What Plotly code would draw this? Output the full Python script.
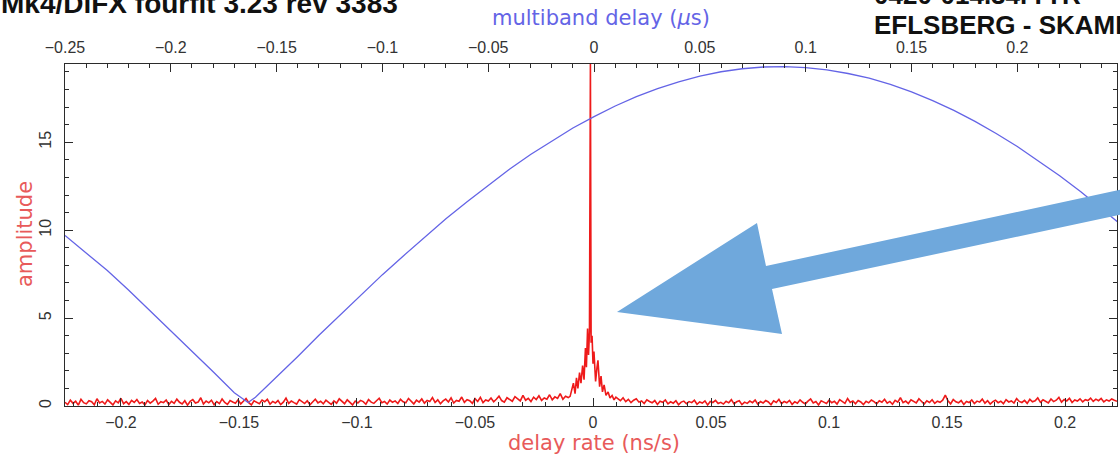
import numpy as np
import plotly.graph_objects as go

# ---- multiband delay function (top axis, microseconds) ----
mbd_delay = [-0.25, -0.24, -0.23, -0.22, -0.21, -0.20, -0.19, -0.18, -0.17, -0.1635,
             -0.16, -0.15, -0.14, -0.13, -0.12, -0.11, -0.10, -0.09, -0.08, -0.07,
             -0.06, -0.05, -0.04, -0.03, -0.02, -0.01, 0.00, 0.01, 0.02, 0.03,
             0.04, 0.05, 0.06, 0.07, 0.08, 0.09, 0.10, 0.11, 0.12, 0.13,
             0.14, 0.15, 0.16, 0.17, 0.18, 0.19, 0.20, 0.21, 0.22, 0.23,
             0.24, 0.25]
mbd_amp = [9.70, 8.70, 7.70, 6.60, 5.45, 4.30, 3.15, 1.95, 0.75, 0.20,
           0.50, 1.64, 2.82, 4.02, 5.18, 6.33, 7.47, 8.55, 9.62, 10.65,
           11.62, 12.56, 13.46, 14.30, 15.08, 15.81, 16.46, 17.06, 17.59, 18.05,
           18.44, 18.76, 19.01, 19.18, 19.28, 19.30, 19.24, 19.12, 18.91, 18.64,
           18.29, 17.87, 17.37, 16.81, 16.19, 15.50, 14.76, 13.95, 13.09, 12.18,
           11.22, 10.21]

# ---- delay-rate spectrum (bottom axis, ns/s) ----
rate_left_span = (-0.2237, -0.0105)
rate_left_amp = [
    0.21, 0.08, 0.33, 0.15, 0.27, 0.05, 0.38, 0.19, 0.12, 0.30, 0.24, 0.07, 0.41, 0.17, 0.26,
    0.11, 0.35, 0.22, 0.06, 0.29, 0.18, 0.44, 0.13, 0.25, 0.09, 0.32, 0.20, 0.37, 0.14, 0.23,
    0.06, 0.31, 0.16, 0.28, 0.43, 0.10, 0.24, 0.19, 0.34, 0.08, 0.27, 0.15, 0.39, 0.21, 0.12,
    0.30, 0.05, 0.26, 0.36, 0.17, 0.22, 0.47, 0.11, 0.28, 0.18, 0.33, 0.07, 0.25, 0.14, 0.40,
    0.20, 0.09, 0.31, 0.23, 0.16, 0.35, 0.12, 0.27, 0.42, 0.19, 0.06, 0.29, 0.21, 0.13, 0.34,
    0.24, 0.38, 0.10, 0.26, 0.17, 0.31, 0.08, 0.22, 0.45, 0.15, 0.28, 0.19, 0.11, 0.36, 0.25,
    0.14, 0.30, 0.07, 0.23, 0.39, 0.18, 0.27, 0.12, 0.33, 0.21, 0.09, 0.29, 0.16, 0.41, 0.24,
    0.13, 0.35, 0.20, 0.06, 0.28, 0.17, 0.32, 0.25, 0.10, 0.37, 0.22, 0.15, 0.30, 0.44, 0.19,
    0.26, 0.11, 0.34, 0.21, 0.29, 0.14, 0.38, 0.24, 0.18, 0.43, 0.27, 0.12, 0.33, 0.22, 0.40,
    0.16, 0.31, 0.25, 0.48, 0.20, 0.35, 0.13, 0.29, 0.39, 0.23, 0.46, 0.17, 0.32, 0.27, 0.51,
    0.21, 0.36, 0.30, 0.15, 0.42, 0.26, 0.49, 0.19, 0.34, 0.28, 0.45, 0.24, 0.38, 0.56, 0.31,
    0.22, 0.47, 0.35, 0.27, 0.53, 0.40, 0.29, 0.60, 0.33, 0.44, 0.25, 0.50, 0.37, 0.58, 0.32,
    0.46, 0.39, 0.64, 0.35, 0.52, 0.43, 0.70, 0.38, 0.55, 0.48,
]

rate_core = [-0.0097, -0.0089, -0.0083, -0.0076, -0.0070, -0.0064, -0.0057, -0.0051,
             -0.0044, -0.0038, -0.0032, -0.0028, -0.0023, -0.0019, -0.0015, -0.0011,
             -0.0008, -0.0004, 0.0000, 0.0004, 0.0011, 0.0017, 0.0021, 0.0028,
             0.0034, 0.0040, 0.0047, 0.0055, 0.0064, 0.0072, 0.0081, 0.0089, 0.0097]
rate_core_amp = [0.55, 0.90, 1.30, 0.70, 1.60, 1.00, 1.90, 1.30,
                 2.30, 1.50, 3.30, 2.20, 4.40, 2.90, 4.20, 19.45,
                 3.60, 4.00, 2.40, 3.10, 1.40, 2.20, 2.60, 1.10,
                 1.70, 0.80, 1.20, 0.60, 0.80, 0.45, 0.60, 0.35, 0.50]

rate_right_span = (0.0105, 0.2220)
rate_right_amp = [
    0.42, 0.30, 0.47, 0.25, 0.38, 0.19, 0.33, 0.41, 0.22, 0.29, 0.14, 0.35, 0.26, 0.18, 0.31,
    0.09, 0.27, 0.21, 0.34, 0.12, 0.24, 0.16, 0.30, 0.07, 0.22, 0.28, 0.13, 0.25, 0.19, 0.33,
    0.10, 0.23, 0.17, 0.29, 0.06, 0.26, 0.20, 0.32, 0.14, 0.21, 0.11, 0.27, 0.18, 0.36, 0.12,
    0.24, 0.30, 0.08, 0.22, 0.15, 0.28, 0.19, 0.34, 0.10, 0.25, 0.17, 0.31, 0.23, 0.07, 0.29,
    0.20, 0.38, 0.13, 0.26, 0.18, 0.32, 0.09, 0.24, 0.16, 0.35, 0.21, 0.12, 0.28, 0.40, 0.17,
    0.25, 0.06, 0.30, 0.22, 0.14, 0.33, 0.19, 0.27, 0.11, 0.36, 0.24, 0.15, 0.43, 0.20, 0.29,
    0.13, 0.31, 0.23, 0.08, 0.27, 0.18, 0.34, 0.25, 0.12, 0.30, 0.21, 0.38, 0.16, 0.26, 0.10,
    0.32, 0.22, 0.47, 0.19, 0.28, 0.14, 0.35, 0.24, 0.17, 0.41, 0.26, 0.11, 0.30, 0.20, 0.36,
    0.15, 0.27, 0.21, 0.33, 0.62, 0.29, 0.12, 0.37, 0.24, 0.18, 0.31, 0.09, 0.26, 0.20, 0.34,
    0.14, 0.28, 0.22, 0.39, 0.16, 0.30, 0.11, 0.25, 0.33, 0.19, 0.27, 0.13, 0.36, 0.23, 0.29,
    0.17, 0.42, 0.26, 0.20, 0.32, 0.15, 0.38, 0.24, 0.30, 0.46, 0.21, 0.35, 0.27, 0.18, 0.40,
    0.25, 0.33, 0.49, 0.22, 0.37, 0.29, 0.44, 0.20, 0.34, 0.28, 0.41, 0.24, 0.36, 0.31, 0.45,
    0.26, 0.39, 0.30, 0.43, 0.23, 0.35, 0.28, 0.40, 0.33, 0.27,
]

rate_x = np.concatenate([
    np.linspace(*rate_left_span, len(rate_left_amp)),
    np.array(rate_core),
    np.linspace(*rate_right_span, len(rate_right_amp)),
])
rate_y = np.concatenate([rate_left_amp, rate_core_amp, rate_right_amp])

# ---- layout geometry (pixels) ----
W, H = 1120, 458
L, R, T, B = 65, 3, 64, 52
PW, PH = W - L - R, H - T - B


def px(x):
    return (x - L) / PW


def py(y):
    return (H - B - y) / PH


AXIS = "#2b2b2b"
TICKFONT = dict(family="Liberation Sans, Arial, sans-serif", size=16, color="#333333")
RED = "#ee1a1a"
BLUE = "#6464e6"

fig = go.Figure()
fig.add_trace(go.Scatter(x=rate_x, y=rate_y, mode="lines", xaxis="x", yaxis="y",
                         line=dict(color=RED, width=1.6), hoverinfo="skip"))
fig.add_trace(go.Scatter(x=mbd_delay, y=mbd_amp, mode="lines", xaxis="x2", yaxis="y",
                         line=dict(color=BLUE, width=1.3), hoverinfo="skip"))

common = dict(showline=True, linecolor=AXIS, linewidth=1.3, showgrid=False, zeroline=False,
              ticks="inside", ticklen=8, tickwidth=1.2, tickcolor=AXIS, tickfont=TICKFONT,
              automargin=False)

fig.update_layout(
    width=W, height=H,
    margin=dict(l=L, r=R, t=T, b=B, pad=0),
    paper_bgcolor="white", plot_bgcolor="white",
    showlegend=False,
    template="none",
    xaxis=dict(range=[-0.2237, 0.2220], tick0=0, dtick=0.05, mirror=False,
               minor=dict(dtick=0.01, tick0=0, ticks="inside", ticklen=4, tickcolor=AXIS),
               ticklabelstandoff=2, **common),
    xaxis2=dict(range=[-0.25, 0.2471], tick0=0, dtick=0.05, overlaying="x", side="top",
                anchor="y", mirror=False,
                minor=dict(dtick=0.01, tick0=0, ticks="inside", ticklen=4, tickcolor=AXIS),
                ticklabelstandoff=3, **common),
    yaxis=dict(range=[0, 19.45], tick0=0, dtick=5, mirror="ticks", tickangle=-90,
               minor=dict(dtick=1, tick0=0, ticks="inside", ticklen=4, tickcolor=AXIS),
               ticklabelstandoff=6, **common),
)

TITLE_FONT = "DejaVu Sans, Verdana, sans-serif"
HEAD_FONT = "Liberation Sans, Arial, sans-serif"
ann = [
    dict(text="multiband delay (<i>μ</i>s)", x=px(601), y=py(18), font=dict(family=TITLE_FONT, size=21, color=BLUE)),
    dict(text="delay rate (ns/s)", x=px(594), y=py(443), font=dict(family=TITLE_FONT, size=21, color="#e85a5a")),
    dict(text="amplitude", x=px(25), y=py(234), textangle=-90, font=dict(family=TITLE_FONT, size=21, color="#e85a5a")),
    dict(text="<b>Mk4/DiFX fourfit 3.23 rev 3383</b>", x=px(-1), y=py(3), xanchor="left",
         font=dict(family=HEAD_FONT, size=28, color="#111111")),
    dict(text="<b>0420-014.34rTTR</b>", x=px(872), y=py(-5), xanchor="left",
         font=dict(family=HEAD_FONT, size=26, color="#111111")),
    dict(text="<b>EFLSBERG - SKAMP</b>", x=px(872), y=py(25), xanchor="left",
         font=dict(family=HEAD_FONT, size=26, color="#111111")),
]
for a in ann:
    a.setdefault("xanchor", "center")
    fig.add_annotation(xref="paper", yref="paper", yanchor="middle", showarrow=False, **a)

# pointer arrow (outline given in pixel positions)
arrow_px = [(1124, 189), (766, 266), (757, 223), (617, 312), (782, 334), (772, 289), (1124, 214)]
path = "M " + " L ".join(f"{px(x):.5f},{py(y):.5f}" for x, y in arrow_px) + " Z"
fig.add_shape(type="path", path=path, xref="paper", yref="paper",
              fillcolor="#6fa8dc", line=dict(width=0), layer="above")

fig.write_html("out.html")
